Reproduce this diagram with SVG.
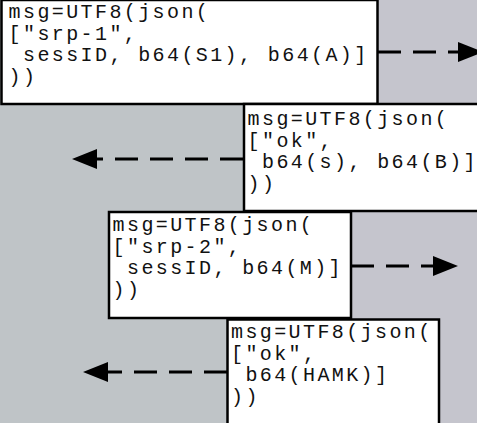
<svg xmlns="http://www.w3.org/2000/svg" width="477" height="423" viewBox="0 0 477 423">
<style>
.box{fill:#ffffff;stroke:#000000;stroke-width:2.5}
.t{font-family:"Liberation Mono","Courier New",monospace;font-size:20px;letter-spacing:2.4px;fill:#111111;white-space:pre}
.c{fill:none;stroke:#000000;stroke-width:3;stroke-dasharray:23 12}
</style>
<defs>
<marker id="ah" markerUnits="userSpaceOnUse" markerWidth="26" markerHeight="22" refX="0" refY="10" orient="auto" overflow="visible">
<path d="M0,0 L25,10 L0,20 Z" fill="#000000"/>
</marker>
</defs>
<rect x="0" y="0" width="300" height="423" fill="#bfc4c7"/>
<rect x="300" y="0" width="177" height="423" fill="#c5c5cd"/>
<g id="node1">
<rect class="box" x="1.5" y="0" width="376" height="104"/>
<text class="t" xml:space="preserve"><tspan x="8.6" y="18">msg=UTF8(json(</tspan><tspan x="8.6" y="39.5">["srp-1",</tspan><tspan x="8.6" y="61"> sessID, b64(S1), b64(A)]</tspan><tspan x="8.6" y="82.5">))</tspan></text>
</g>
<g id="node2">
<rect class="box" x="244" y="104" width="260" height="107"/>
<text class="t" xml:space="preserve"><tspan x="247.6" y="125">msg=UTF8(json(</tspan><tspan x="247.6" y="146.5">["ok",</tspan><tspan x="247.6" y="168"> b64(s), b64(B)]</tspan><tspan x="247.6" y="189.5">))</tspan></text>
</g>
<g id="node3">
<rect class="box" x="109" y="212" width="242" height="106"/>
<text class="t" xml:space="preserve"><tspan x="112.6" y="231">msg=UTF8(json(</tspan><tspan x="112.6" y="252.5">["srp-2",</tspan><tspan x="112.6" y="274"> sessID, b64(M)]</tspan><tspan x="112.6" y="295.5">))</tspan></text>
</g>
<g id="node4">
<rect class="box" x="227.5" y="319.5" width="211.5" height="120"/>
<text class="t" xml:space="preserve"><tspan x="231" y="338">msg=UTF8(json(</tspan><tspan x="231" y="359.5">["ok",</tspan><tspan x="231" y="381"> b64(HAMK)]</tspan><tspan x="231" y="402.5">))</tspan></text>
</g>
<g id="connectors">
<path class="c" d="M378,52 L458,52" marker-end="url(#ah)"/>
<path class="c" d="M243,159 L97,159" marker-end="url(#ah)"/>
<path class="c" d="M351,266 L433,266" marker-end="url(#ah)"/>
<path class="c" d="M227,372 L108,372" marker-end="url(#ah)"/>
</g>
</svg>
